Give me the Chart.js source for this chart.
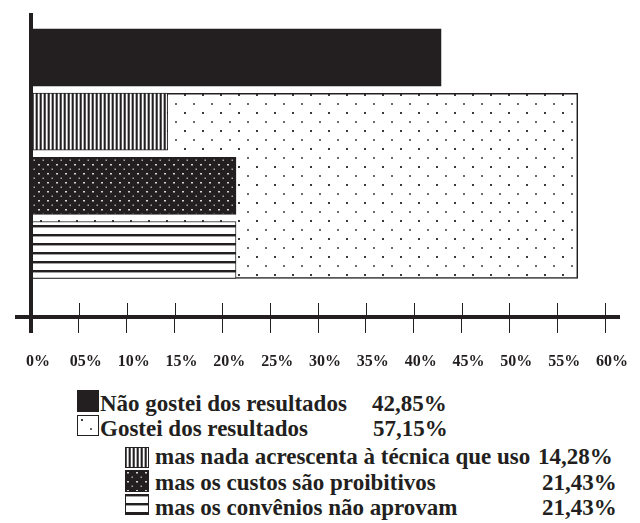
<!DOCTYPE html>
<html>
<head>
<meta charset="utf-8">
<script src="https://cdn.jsdelivr.net/npm/chart.js@4.4.1/dist/chart.umd.min.js"></script>
<style>
  body { margin: 0; background: #fff; width: 640px; height: 523px; overflow: hidden; position: relative;
         font-family: 'Liberation Serif', 'Times New Roman', serif; font-weight: bold; color: #231f20; }
  #wrap { position: absolute; left: 0; top: 0; width: 640px; height: 380px; }
  .lg { position: absolute; font-size: 23px; line-height: 24px; white-space: nowrap; }
  .sw { position: absolute; }
</style>
</head>
<body>
<div id="wrap"><canvas id="chart"></canvas></div>
<div id="legend"></div>
<script>
// answers and their share of respondents
const categories = [
  'Não gostei dos resultados',
  'Gostei dos resultados',
  'mas nada acrescenta à técnica que uso',
  'mas os custos são proibitivos',
  'mas os convênios não aprovam'
];
const percents = [42.85, 57.15, 14.28, 21.43, 21.43];
// row on the vertical scale where each bar sits (the "Gostei" bar spans rows 1-3)
const rows = [0, 2, 1, 2, 3];
const tickLabels = ['0%', '05%', '10%', '15%', '20%', '25%', '30%', '35%', '40%', '45%', '50%', '55%', '60%'];

const INK = '#231f20';

function makePattern(w, h, draw) {
  const c = document.createElement('canvas');
  c.width = w; c.height = h;
  const g = c.getContext('2d');
  draw(g);
  return g.createPattern(c, 'repeat');
}

const fills = [
  INK,
  // sparse dots
  makePattern(18, 18, g => {
    g.fillStyle = '#fff'; g.fillRect(0, 0, 18, 18);
    g.fillStyle = '#3a3a3a'; g.fillRect(4, 4, 2, 2);
    g.fillStyle = '#6a6a6a'; g.fillRect(13, 13, 2, 2);
  }),
  // vertical stripes
  makePattern(4, 4, g => {
    g.fillStyle = '#fff'; g.fillRect(0, 0, 4, 4);
    g.fillStyle = INK; g.fillRect(0, 0, 1, 4);
    g.fillStyle = '#5a5a5a'; g.fillRect(1, 0, 1, 4);
    g.fillStyle = '#b0b0b0'; g.fillRect(3, 0, 1, 4);
  }),
  // light dots on black
  makePattern(9, 9, g => {
    g.fillStyle = INK; g.fillRect(0, 0, 9, 9);
    g.fillStyle = '#d8d8d8'; g.fillRect(2, 2, 2, 1.5);
    g.fillStyle = '#a8a8a8'; g.fillRect(6.5, 6.5, 1.5, 1.5);
  }),
  // horizontal stripes
  makePattern(9, 9, g => {
    g.fillStyle = '#fff'; g.fillRect(0, 0, 9, 9);
    g.fillStyle = INK; g.fillRect(0, 0, 9, 2);
    g.fillStyle = '#a0a0a0'; g.fillRect(0, 2, 9, 1);
  })
];

const datasets = categories.map((label, i) => ({
  label,
  data: [{ x: percents[i], y: rows[i] }],
  backgroundColor: fills[i],
  borderColor: INK,
  borderWidth: i === 0 ? 0 : (i === 1 ? 1.5 : 1),
  borderSkipped: false,
  barThickness: i === 1 ? 185 : 57,
  grouped: false,
  order: i === 1 ? 2 : 1
}));

// axis lines that run past the plot area, and tick marks that cross the x axis
const axisLines = {
  id: 'axisLines',
  afterDraw(chart) {
    const { ctx, chartArea: a, scales: { x } } = chart;
    ctx.save();
    ctx.strokeStyle = INK;
    ctx.lineWidth = 1;
    x.ticks.forEach((t, i) => {
      const px = Math.round(x.getPixelForTick(i)) + 0.5;
      ctx.beginPath(); ctx.moveTo(px, a.bottom - 14); ctx.lineTo(px, a.bottom); ctx.stroke();
    });
    ctx.lineWidth = 4;
    ctx.beginPath(); ctx.moveTo(a.left - 16, a.bottom); ctx.lineTo(a.right + 15, a.bottom); ctx.stroke();
    ctx.beginPath(); ctx.moveTo(a.left, a.top); ctx.lineTo(a.left, a.bottom + 16); ctx.stroke();
    ctx.restore();
  }
};

new Chart(document.getElementById('chart'), {
  type: 'bar',
  data: { datasets },
  options: {
    indexAxis: 'y',
    responsive: true,
    maintainAspectRatio: false,
    animation: false,
    layout: { padding: { left: 29, right: 33, top: 13, bottom: 0 } },
    plugins: { legend: { display: false }, tooltip: { enabled: false } },
    scales: {
      y: { type: 'linear', reverse: true, offset: false, min: -0.693, max: 4.044, display: false },
      x: {
        type: 'linear', min: 0, max: 60,
        border: { display: false },
        grid: { drawOnChartArea: false, drawTicks: true, tickLength: 16, color: INK, lineWidth: 1 },
        ticks: {
          stepSize: 5, autoSkip: false, maxRotation: 0, padding: 19, labelOffset: 7,
          color: INK,
          font: { family: "'Liberation Serif', serif", weight: 'bold', size: 16 },
          callback: (v, i) => tickLabels[i]
        },
        afterFit: (scale) => { scale.height = 63; }
      }
    }
  },
  plugins: [axisLines]
});

// legend below the chart
const fmt = v => v.toFixed(2).replace('.', ',') + '%';
const legendLayout = [
  { sw: [77, 390, 22, 22], text: 100, value: 372, top: 392 },
  { sw: [77, 415, 22, 21], text: 100, value: 373, top: 417 },
  { sw: [125, 447, 24, 21], text: 155, value: 538, top: 445 },
  { sw: [125, 470, 24, 22], text: 155, value: 542, top: 471 },
  { sw: [125, 494, 24, 21], text: 155, value: 542, top: 496 }
];
const legend = document.getElementById('legend');
categories.forEach((label, i) => {
  const L = legendLayout[i];
  const c = document.createElement('canvas');
  c.className = 'sw';
  c.width = L.sw[2]; c.height = L.sw[3];
  c.style.left = L.sw[0] + 'px'; c.style.top = L.sw[1] + 'px';
  const g = c.getContext('2d');
  g.fillStyle = fills[i];
  g.fillRect(0, 0, c.width, c.height);
  if (i > 0) { g.strokeStyle = INK; g.lineWidth = 1; g.strokeRect(0.5, 0.5, c.width - 1, c.height - 1); }
  legend.appendChild(c);
  const t = document.createElement('div');
  t.className = 'lg'; t.textContent = label;
  t.style.left = L.text + 'px'; t.style.top = L.top + 'px';
  legend.appendChild(t);
  const v = document.createElement('div');
  v.className = 'lg'; v.textContent = fmt(percents[i]);
  v.style.left = L.value + 'px'; v.style.top = L.top + 'px';
  legend.appendChild(v);
});
</script>
</body>
</html>
